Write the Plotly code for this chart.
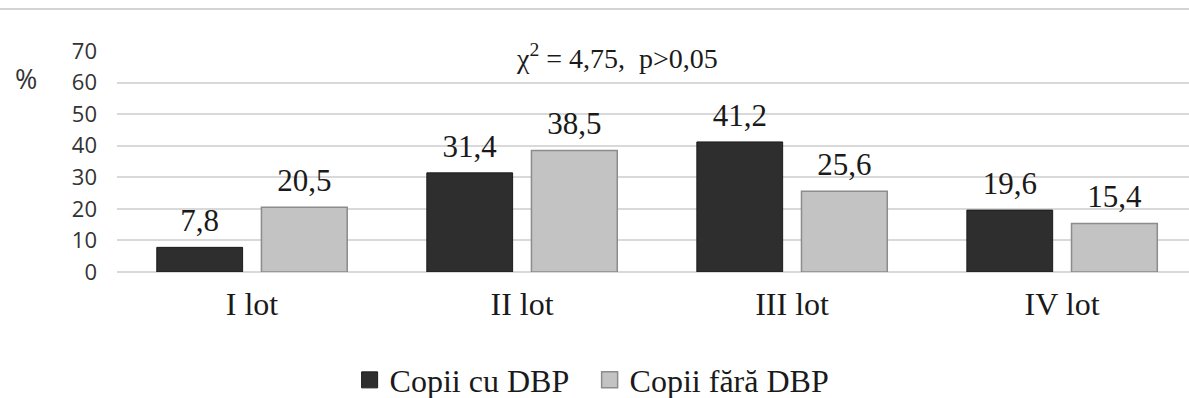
import plotly.graph_objects as go

categories = ["I lot", "II lot", "III lot", "IV lot"]
cu_dbp = [7.8, 31.4, 41.2, 19.6]
fara_dbp = [20.5, 38.5, 25.6, 15.4]
series_names = ["Copii cu DBP", "Copii fără DBP"]
y_ticks = [0, 10, 20, 30, 40, 50, 60, 70]
stat_text = "χ<sup>2</sup> = 4,75,  p>0,05"

SERIF = "Liberation Serif, Times New Roman, serif"
SANS = "Open Sans, DejaVu Sans, sans-serif"

fills = ["#2e2e2e", "#c3c3c3"]
edges = ["#1c1c1c", "#8c8c8c"]
edge_w = [1, 1.5]

fig = go.Figure()
for i, vals in enumerate([cu_dbp, fara_dbp]):
    fig.add_trace(go.Bar(
        x=categories, y=vals, name=series_names[i], showlegend=False,
        offsetgroup=str(i),
        marker=dict(color=fills[i], line=dict(color=edges[i], width=edge_w[i])),
    ))
for i, vals in enumerate([cu_dbp, fara_dbp]):
    # value labels, grouped like the bars
    fig.add_trace(go.Scatter(
        x=categories, y=vals, mode="markers+text", showlegend=False, hoverinfo="skip",
        offsetgroup=str(i), cliponaxis=False,
        marker=dict(size=12, opacity=0),
        text=[f"{v:.1f}".replace(".", ",") for v in vals],
        textposition="top center",
        textfont=dict(family=SERIF, size=31, color="#1a1a1a"),
    ))
for i in range(2):
    # legend entries
    fig.add_trace(go.Scatter(
        x=[None], y=[None], mode="markers", name=series_names[i],
        marker=dict(symbol="square", size=16, color=fills[i],
                    line=dict(color=edges[i], width=edge_w[i])),
    ))

fig.update_layout(
    width=1189, height=398,
    margin=dict(l=117, r=0, t=51, b=126, autoexpand=False),
    paper_bgcolor="white", plot_bgcolor="white",
    barmode="group", bargap=0.225, bargroupgap=0.18,
    scattermode="group", scattergap=0.225,
    showlegend=True,
    legend=dict(orientation="h", x=0.217, xanchor="left", y=-0.489, yanchor="middle",
                font=dict(family=SERIF, size=32, color="#1a1a1a"),
                itemwidth=30, traceorder="normal", itemsizing="trace",
                entrywidth=195, entrywidthmode="pixels"),
    xaxis=dict(range=[-0.5, 3.47], showgrid=False, showline=False, zeroline=False,
               tickfont=dict(family=SERIF, size=32, color="#1a1a1a"),
               ticklabelstandoff=10),
    yaxis=dict(range=[0, 70], tickvals=y_ticks, showgrid=True, gridcolor="#d9d9d9",
               gridwidth=1.5, zeroline=True, zerolinecolor="#d9d9d9", zerolinewidth=1.5,
               showline=False,
               tickfont=dict(family=SANS, size=22, color="#333333"),
               ticklabelstandoff=19),
    annotations=[
        dict(text="%", xref="paper", yref="paper", x=-91/1072, y=(272-78)/221,
             xanchor="center", yanchor="middle", showarrow=False,
             font=dict(family=SANS, size=27, color="#333333")),
        dict(text=stat_text, xref="paper", yref="paper", x=(617-117)/1072, y=(272-56)/221,
             xanchor="center", yanchor="middle", showarrow=False,
             font=dict(family=SERIF, size=28, color="#1a1a1a")),
    ],
    shapes=[
        dict(type="line", xref="paper", yref="paper", x0=-117/1072, x1=1.0,
             y0=(272-9)/221, y1=(272-9)/221, line=dict(color="#d4d4d4", width=2)),
    ],
)

fig.write_html("out.html", config={"displayModeBar": False},
               post_script="document.body.style.margin='0';document.body.style.overflow='hidden';")
